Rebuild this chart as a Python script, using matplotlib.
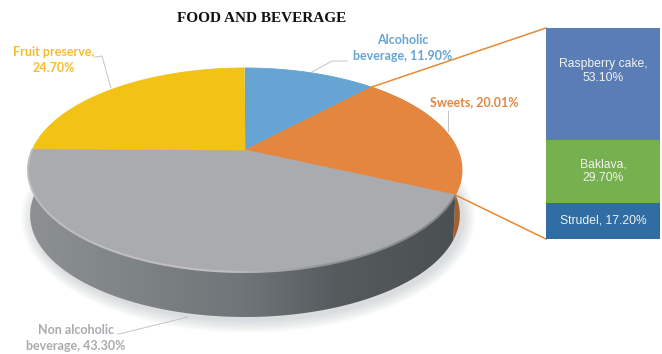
import numpy as np
import matplotlib.pyplot as plt
from matplotlib.collections import LineCollection
from matplotlib.colors import LinearSegmentedColormap, to_rgb
from matplotlib.patches import Ellipse, Polygon

# Main pie, percentages clockwise from twelve o'clock
pie_names = ['Alcoholic\nbeverage, 11.90%', 'Sweets, 20.01%',
             'Non alcoholic\nbeverage, 43.30%', 'Fruit preserve,\n24.70%']
pie_values = [11.90, 20.01, 43.30, 24.70]
pie_colors = ['#66a5d3', '#e58640', '#a9abae', '#f2c314']
label_colors = ['#66a5d3', '#e58640', '#a9abae', '#f2bd2f']

# Breakdown of the sweets slice, top to bottom
bar_names = ['Raspberry cake,\n53.10%', 'Baklava,\n29.70%', 'Strudel, 17.20%']
bar_values = [53.10, 29.70, 17.20]
bar_colors = ['#5a7db5', '#76b04f', '#2f6da3']

# Layout of the tilted disc, in pixels
CX, APEX_Y, RX = 245, 150, 212.8
PERSP, TILT = 0.196, -68.7
DEPTH = 45


def project(theta):
    # Perspective projection of a unit circle point, theta clockwise from the top
    u, v = np.sin(theta), np.cos(theta)
    w = PERSP * v + 1
    return CX + RX * u / w, (TILT * v + APEX_Y) / w


def wall_outline(start, stop):
    # Top arc followed by the lower arc in reverse
    x, y = project(np.linspace(start, stop, 300))
    low_x = CX + (x - CX) * 0.99
    low_y = y + DEPTH
    return np.c_[np.r_[x, low_x[::-1]], np.r_[y, low_y[::-1]]]


fig = plt.figure(figsize=(6.62, 3.54), dpi=100)
ax = fig.add_axes([0, 0, 1, 1])

# Soft shadow under the disc
for grow in np.linspace(12, 0, 12):
    ax.add_patch(Ellipse((248, 218), 430 + 2 * grow, 206 + 2 * grow,
                         color='#9aa3ad', alpha=0.03, lw=0))

edges = np.cumsum([0] + pie_values) / 100 * 2 * np.pi

# Side wall of the grey slice, shaded from left to right
wall_grey = LinearSegmentedColormap.from_list(
    'wall', [(0, '#8d9192'), (0.5, '#6f7578'), (0.72, '#565c5e'), (1, '#4a5052')])
shade = ax.imshow(np.linspace(0, 1, 256)[None, :], cmap=wall_grey, aspect='auto',
                  extent=(28, 458, 330, 150), zorder=2)
grey_wall = Polygon(wall_outline(edges[2], edges[3]), closed=True, transform=ax.transData)
shade.set_clip_path(grey_wall)

# Side wall of the orange slice
ax.add_patch(Polygon(wall_outline(edges[1], edges[2]), closed=True, lw=0, zorder=1.9,
                     color=tuple(c * 0.72 for c in to_rgb(pie_colors[1]))))

# Top face
for i, color in enumerate(pie_colors):
    x, y = project(np.linspace(edges[i], edges[i + 1], 200))
    ax.fill(np.r_[CX, x], np.r_[APEX_Y, y], color=color, lw=0.6, zorder=3)

# Bevel along the front rim
rx, ry = project(np.linspace(edges[2], edges[3], 300))
segments = [[(rx[j], ry[j]), (rx[j + 1], ry[j + 1])] for j in range(len(rx) - 1)]
rim = LinearSegmentedColormap.from_list(
    'rim', [(0, '#7a7f82'), (0.3, '#8f9395'), (0.45, '#c2c2c4'), (1, '#bcbec0')])
ax.add_collection(LineCollection(segments, colors=rim(np.linspace(0, 1, len(segments))),
                                 linewidths=1.5, zorder=3.1))

# Zoom lines from the sweets slice to the stacked column
BAR_LEFT, BAR_RIGHT, BAR_TOP, BAR_BOTTOM = 546, 660, 28, 239
x_a, y_a = project(edges[1])
x_b, y_b = project(edges[2])
ax.plot([x_a, BAR_LEFT], [y_a, BAR_TOP], color='#e58a35', lw=1.1, zorder=4)
ax.plot([x_b, BAR_LEFT], [y_b, BAR_BOTTOM], color='#e58a35', lw=1.1, zorder=4)

# Stacked column, the first label sits above the middle of its segment
label_shift = [-13, 0, 0]
scale = (BAR_BOTTOM - BAR_TOP) / sum(bar_values)
top = BAR_TOP
for name, value, color, shift in zip(bar_names, bar_values, bar_colors, label_shift):
    height = value * scale
    ax.bar((BAR_LEFT + BAR_RIGHT) / 2, height, width=BAR_RIGHT - BAR_LEFT, bottom=top,
           color=color, lw=0, zorder=4)
    ax.text(603, top + height / 2 + shift, name, color='#f2f2f2', fontsize=8.7,
            family='Liberation Sans', ha='center', va='center', linespacing=1.15, zorder=5)
    top += height

# Leader lines
leader_lines = [([347, 332, 312], [61, 61, 72]),
                ([448, 448], [111, 131]),
                ([118, 123, 188], [334, 333, 317]),
                ([95, 102, 111], [57, 56, 88])]
for xs, ys in leader_lines:
    ax.plot(xs, ys, color='#c4c4c4', lw=0.7, zorder=4)

# Slice labels
label_pos = [(403, 48), (474, 102), (76, 338), (54, 60)]
for name, (x, y), color in zip(pie_names, label_pos, label_colors):
    ax.text(x, y, name, color=color, fontsize=9, family='Lato', fontweight='bold',
            ha='center', va='center', linespacing=1.45, zorder=5)

ax.text(262, 18, 'FOOD AND BEVERAGE', color='#111111', fontsize=11, family='Liberation Serif',
        fontweight='bold', ha='center', va='center')

ax.set_xlim(0, 662)
ax.set_ylim(354, 0)
ax.axis('off')

fig.savefig('out.png', dpi=100)
